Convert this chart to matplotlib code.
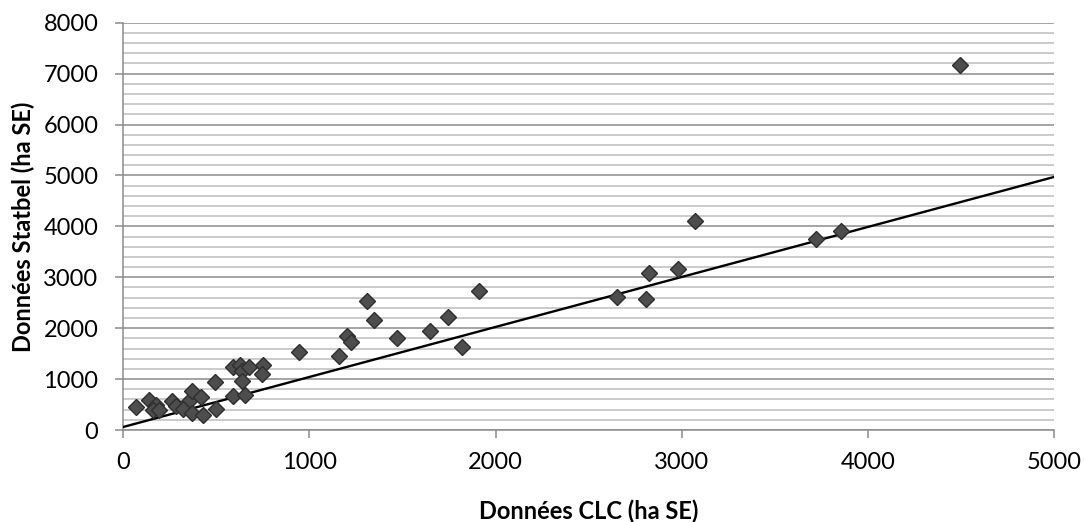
import matplotlib
matplotlib.use("Agg")
import matplotlib.pyplot as plt
from matplotlib.ticker import MultipleLocator
import numpy as np

# values
clc_ha = [68, 140, 176, 161, 194, 262, 284, 355, 367, 320, 367, 417, 430,
          491, 498, 588, 654, 590, 627, 640, 677, 640, 750, 748, 944, 1159,
          1200, 1223, 1308, 1347, 1469, 1648, 1746, 1822, 1913, 2651, 2807,
          2826, 2982, 3072, 3721, 3855, 4496]
statbel_ha = [452, 582, 498, 393, 393, 563, 472, 563, 772, 420, 328, 642, 295,
              943, 416, 668, 688, 1232, 1277, 1165, 1232, 969, 1270, 1107, 1538,
              1454, 1853, 1735, 2541, 2161, 1801, 1945, 2226, 1637, 2737, 2619,
              2568, 3078, 3157, 4112, 3746, 3916, 7176]

# linear trend line as drawn in the reference
trend_intercept = 60
trend_slope = 0.982
trend_x = [0, 5000]

x_label = "Données CLC (ha SE)"
y_label = "Données Statbel (ha SE)"

plt.rcParams["font.family"] = ["Lato", "DejaVu Sans"]

fig = plt.figure(figsize=(10.84, 5.22), dpi=100)
ax = fig.add_axes([0.1137, 0.1762, 0.8586, 0.7803])

ax.set_xlim(0, 5000)
ax.set_ylim(0, 8000)
ax.xaxis.set_major_locator(MultipleLocator(1000))
ax.yaxis.set_major_locator(MultipleLocator(1000))
ax.yaxis.set_minor_locator(MultipleLocator(200))

ax.grid(axis="y", which="major", color="#8c8c8c", lw=1.1, zorder=0)
ax.grid(axis="y", which="minor", color="#bdbdbd", lw=1.1, zorder=0)
ax.set_axisbelow(True)

tx = np.array(trend_x, dtype=float)
ax.plot(tx, trend_intercept + trend_slope * tx, color="black", lw=1.7, zorder=3)
ax.plot(clc_ha, statbel_ha, ls="none", marker="D", ms=8,
        mfc="#4d4d4d", mec="#2e2e2e", mew=1.0, zorder=4, clip_on=False)

for side in ("top", "right"):
    ax.spines[side].set_visible(False)
for side in ("left", "bottom"):
    ax.spines[side].set_color("#8c8c8c")
    ax.spines[side].set_linewidth(1.1)

ax.tick_params(which="major", direction="out", length=6, width=1.1,
               color="#8c8c8c", labelsize=17, labelcolor="black")
ax.tick_params(axis="x", pad=10)
ax.tick_params(axis="y", pad=12)
ax.tick_params(which="minor", length=0)

ax.set_xlabel(x_label, fontsize=17, fontweight="bold", labelpad=19)
ax.set_ylabel(y_label, fontsize=17, fontweight="bold", labelpad=6)

fig.savefig("out.png", dpi=100)
